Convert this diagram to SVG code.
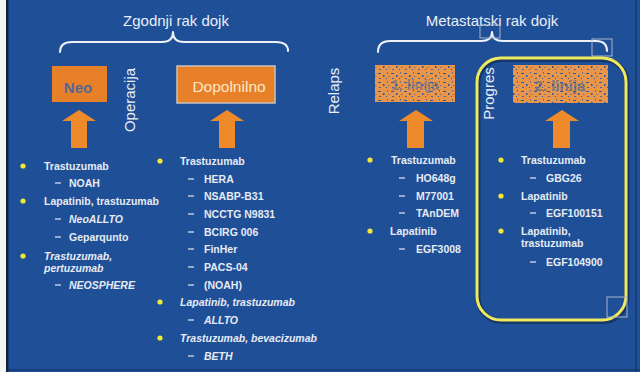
<svg xmlns="http://www.w3.org/2000/svg" width="640" height="372" viewBox="0 0 640 372">
<defs>
<style>
.bg{fill:#1f4f97}
.head{font-family:"Liberation Sans",Arial,sans-serif;font-size:15px;fill:#e9eef7}
.rot{font-family:"Liberation Sans",Arial,sans-serif;font-size:15px;fill:#e9eef7;text-anchor:middle}
.brace{fill:none;stroke:#eef2f8;stroke-width:2;stroke-linecap:round;stroke-linejoin:round}
.box{fill:#e8802a}
.lbl{font-family:"Liberation Sans",Arial,sans-serif;font-weight:bold;font-size:10.5px;fill:#e6ebf4}
.it{font-style:italic}
.bul{fill:#f2e838}
.dash{stroke:#c9d1e2;stroke-width:1.4}
.arrow{fill:#ee8a2a}
.sel{fill:none;stroke:#a9b6cc;stroke-width:1}
</style>
<pattern id="noise" width="13" height="9" patternUnits="userSpaceOnUse">
<rect width="13" height="9" fill="#ea964a"/>
<rect x="1" y="1" width="3" height="1" fill="#2a5aa0"/>
<rect x="6" y="3" width="1.5" height="2" fill="#2a5aa0"/>
<rect x="10" y="0" width="1" height="1.5" fill="#2a5aa0" opacity="0.8"/>
<rect x="2" y="6" width="2" height="1" fill="#2a5aa0" opacity="0.8"/>
<rect x="9" y="6" width="1" height="1" fill="#2a5aa0"/>
<rect x="11" y="4" width="1.5" height="1" fill="#2a5aa0" opacity="0.6"/>
</pattern>
</defs>
<rect class="bg" x="0" y="0" width="640" height="372"/>
<rect x="0" y="0" width="6" height="372" fill="#f4f6f2"/>
<rect x="6" y="0" width="2.5" height="372" fill="#0f2340"/>
<rect x="635" y="0" width="2" height="372" fill="#173e7a"/>
<rect x="8" y="369" width="632" height="1.5" fill="#163a72"/>

<g id="early-title">
<text class="head" x="176" y="26" text-anchor="middle">Zgodnji rak dojk</text>
<path class="brace" d="M60,52 Q60,42 72,42 L162,42 Q173,42 173,32 Q173,42 184,42 L276,42 Q288,42 288,51"/>
</g>
<g id="meta-title">
<text class="head" x="492" y="26" text-anchor="middle">Metastatski rak dojk</text>
<path class="brace" d="M378,52 Q378,41 390,41 L481,41 Q492,41 492,32 Q492,41 503,41 L596,41 Q607,41 607,51"/>
<rect class="sel" x="480" y="25" width="20" height="13"/>
<rect class="sel" x="592" y="39" width="20" height="17"/>
</g>

<g id="neo">
<rect class="box" x="52" y="66" width="55" height="36"/>
<text x="78" y="93" text-anchor="middle" font-family="'Liberation Sans',Arial,sans-serif" font-size="15" font-weight="bold" fill="#3c63a8" opacity="0.85">Neo</text>
</g>
<g id="operacija">
<text class="rot" transform="translate(135,100) rotate(-90)">Operacija</text>
</g>
<g id="dopolnilno">
<rect class="box" x="177" y="66" width="98" height="37" stroke="#c9c3bb" stroke-width="1.5"/>
<text x="229" y="91.5" text-anchor="middle" font-family="'Liberation Sans',Arial,sans-serif" font-size="15.5" fill="#fbe8c8">Dopolnilno</text>
</g>
<g id="relaps">
<text class="rot" transform="translate(338.5,91) rotate(-90)">Relaps</text>
</g>
<g id="prva-linija">
<rect x="375" y="65" width="80" height="37" fill="url(#noise)"/>
<text x="415" y="90" text-anchor="middle" font-family="'Liberation Sans',Arial,sans-serif" font-size="14" font-weight="bold" fill="#2f5ea4" opacity="0.5">1. linija</text>
</g>
<g id="progres">
<rect x="477" y="58" width="149" height="262" rx="24" fill="none" stroke="#0c1f3c" stroke-width="5" opacity="0.5" transform="translate(1,1.5)"/>
<rect x="477" y="58" width="149" height="262" rx="24" fill="none" stroke="#efea5c" stroke-width="3"/>
<rect class="sel" x="607" y="297" width="20" height="20"/>
<text class="rot" transform="translate(494,93.5) rotate(-90)">Progres</text>
</g>
<g id="druga-linija">
<rect x="513" y="65" width="95" height="38" fill="url(#noise)"/>
<text x="560" y="91" text-anchor="middle" font-family="'Liberation Sans',Arial,sans-serif" font-size="15" font-weight="bold" fill="#2f5ea4" opacity="0.6">2. linija</text>
</g>

<g id="connectors">
<polygon class="arrow" points="79,110 96,121 87,121 87,148 71,148 71,121 62,121"/>
<polygon class="arrow" points="227,110 244,121 235,121 235,148 219,148 219,121 210,121"/>
<polygon class="arrow" points="416,110 433,121 424,121 424,148 407,148 407,121 399,121"/>
<polygon class="arrow" points="562,110 579,121 570,121 570,148 553,148 553,121 545,121"/>
</g>

<g id="list-neo">
<circle class="bul" cx="23" cy="166" r="2.6"/>
<text class="lbl" x="44" y="170">Trastuzumab</text>
<line class="dash" x1="55" y1="183" x2="61" y2="183"/>
<text class="lbl" x="69" y="187">NOAH</text>
<circle class="bul" cx="23" cy="201" r="2.6"/>
<text class="lbl" x="44" y="205">Lapatinib, trastuzumab</text>
<line class="dash" x1="55" y1="219" x2="61" y2="219"/>
<text class="lbl it" x="69" y="223">NeoALLTO</text>
<line class="dash" x1="55" y1="237" x2="61" y2="237"/>
<text class="lbl" x="69" y="241">Geparqunto</text>
<circle class="bul" cx="23" cy="256" r="2.6"/>
<text class="lbl it" x="44" y="260">Trastuzumab,</text>
<text class="lbl it" x="44" y="271.5">pertuzumab</text>
<line class="dash" x1="55" y1="285" x2="61" y2="285"/>
<text class="lbl it" x="69" y="289">NEOSPHERE</text>
</g>

<g id="list-dopolnilno">
<circle class="bul" cx="160" cy="161" r="2.6"/>
<text class="lbl" x="180" y="165">Trastuzumab</text>
<line class="dash" x1="188" y1="179" x2="194" y2="179"/>
<text class="lbl" x="204" y="183">HERA</text>
<line class="dash" x1="188" y1="196" x2="194" y2="196"/>
<text class="lbl" x="204" y="200">NSABP-B31</text>
<line class="dash" x1="188" y1="214" x2="194" y2="214"/>
<text class="lbl" x="204" y="218">NCCTG N9831</text>
<line class="dash" x1="188" y1="232" x2="194" y2="232"/>
<text class="lbl" x="204" y="236">BCIRG 006</text>
<line class="dash" x1="188" y1="249" x2="194" y2="249"/>
<text class="lbl" x="204" y="253">FinHer</text>
<line class="dash" x1="188" y1="267" x2="194" y2="267"/>
<text class="lbl" x="204" y="271">PACS-04</text>
<line class="dash" x1="188" y1="285" x2="194" y2="285"/>
<text class="lbl" x="204" y="289">(NOAH)</text>
<circle class="bul" cx="160" cy="302" r="2.6"/>
<text class="lbl it" x="180" y="306">Lapatinib, trastuzumab</text>
<line class="dash" x1="188" y1="320" x2="194" y2="320"/>
<text class="lbl it" x="204" y="324">ALLTO</text>
<circle class="bul" cx="160" cy="338" r="2.6"/>
<text class="lbl it" x="180" y="342">Trastuzumab, bevacizumab</text>
<line class="dash" x1="188" y1="356" x2="194" y2="356"/>
<text class="lbl it" x="204" y="360">BETH</text>
</g>

<g id="list-relaps">
<circle class="bul" cx="370" cy="160" r="2.6"/>
<text class="lbl" x="391" y="164">Trastuzumab</text>
<line class="dash" x1="399" y1="178" x2="405" y2="178"/>
<text class="lbl" x="416" y="182">HO648g</text>
<line class="dash" x1="399" y1="196" x2="405" y2="196"/>
<text class="lbl" x="416" y="200">M77001</text>
<line class="dash" x1="399" y1="213" x2="405" y2="213"/>
<text class="lbl" x="416" y="217">TAnDEM</text>
<circle class="bul" cx="370" cy="231" r="2.6"/>
<text class="lbl" x="390" y="235">Lapatinib</text>
<line class="dash" x1="399" y1="249" x2="405" y2="249"/>
<text class="lbl" x="416" y="253">EGF3008</text>
</g>

<g id="list-progres">
<circle class="bul" cx="501" cy="160" r="2.6"/>
<text class="lbl" x="521" y="164">Trastuzumab</text>
<line class="dash" x1="530" y1="178" x2="536" y2="178"/>
<text class="lbl" x="546" y="182">GBG26</text>
<circle class="bul" cx="501" cy="196" r="2.6"/>
<text class="lbl" x="521" y="200">Lapatinib</text>
<line class="dash" x1="530" y1="213" x2="536" y2="213"/>
<text class="lbl" x="546" y="217">EGF100151</text>
<circle class="bul" cx="501" cy="231" r="2.6"/>
<text class="lbl" x="521" y="235">Lapatinib,</text>
<text class="lbl" x="521" y="247">trastuzumab</text>
<line class="dash" x1="530" y1="262" x2="536" y2="262"/>
<text class="lbl" x="546" y="266">EGF104900</text>
</g>
</svg>
